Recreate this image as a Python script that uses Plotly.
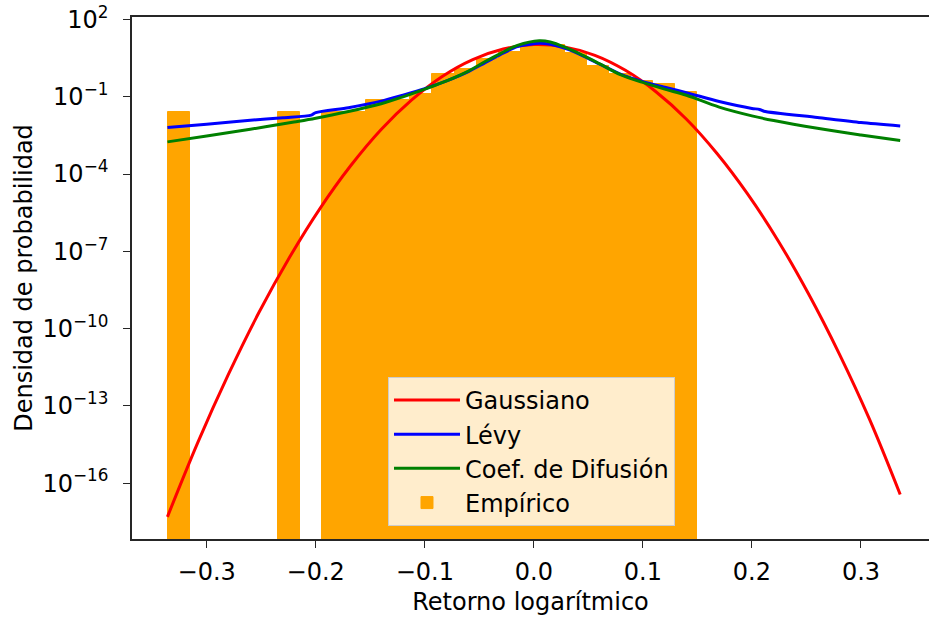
import plotly.graph_objects as go

# Histogram of log returns (density), bin centres and heights
bin_centers = [-0.32559, -0.22444, -0.18398, -0.16375, -0.14352, -0.12329, -0.10306,
               -0.08283, -0.06260, -0.04237, -0.02214, -0.00191, 0.01832, 0.03855,
               0.05878, 0.07901, 0.09924, 0.11947, 0.13970]
empirical_density = [0.026, 0.026, 0.026, 0.026, 0.078, 0.078, 0.13,
                     0.80, 1.25, 2.9, 5.6, 10.5, 10.0, 5.1,
                     1.6, 0.75, 0.41, 0.31, 0.16]
bin_width = 0.02023

# Gaussian fit
gauss_x = [-0.336, -0.308, -0.280, -0.252, -0.224, -0.196, -0.168, -0.140,
           -0.112, -0.084, -0.056, -0.028, 0.000, 0.028, 0.056, 0.084,
           0.112, 0.140, 0.168, 0.196, 0.224, 0.252, 0.280, 0.308, 0.336]
gauss_y = [4.9e-18, 3.9e-15, 1.7e-12, 4.3e-10, 5.9e-8, 4.7e-6, 2.1e-4, 5.4e-3,
           7.6e-2, 0.62, 2.8, 7.2, 10.7, 8.7, 4.1, 1.07,
           0.158, 1.35e-2, 6.3e-4, 1.7e-5, 2.6e-7, 2.2e-9, 1.07e-11, 2.9e-14, 3.6e-17]

# Lévy stable fit
levy_x = [-0.336, -0.30, -0.26, -0.23, -0.204, -0.200, -0.17, -0.14, -0.12,
          -0.10, -0.08, -0.06, -0.045, -0.03, -0.015, 0.005, 0.015, 0.03,
          0.045, 0.06, 0.08, 0.10, 0.12, 0.14, 0.17, 0.20, 0.207, 0.211,
          0.26, 0.30, 0.336]
levy_y = [6.5e-3, 8.7e-3, 1.23e-2, 1.55e-2, 1.95e-2, 2.45e-2, 3.8e-2, 6.8e-2, 0.117,
          0.209, 0.417, 0.955, 2.09, 4.57, 8.9, 12.0, 11.0, 7.24,
          3.89, 1.91, 0.741, 0.389, 0.234, 0.145, 6.6e-2, 3.55e-2, 3.24e-2, 2.75e-2,
          1.58e-2, 1.0e-2, 7.4e-3]

# Diffusion-coefficient fit
diff_x = [-0.336, -0.30, -0.26, -0.22, -0.20, -0.17, -0.14, -0.12, -0.10,
          -0.08, -0.06, -0.045, -0.03, -0.015, 0.005, 0.015, 0.03, 0.045,
          0.06, 0.08, 0.10, 0.12, 0.14, 0.17, 0.20, 0.22, 0.26, 0.30, 0.336]
diff_y = [1.78e-3, 3.0e-3, 5.5e-3, 1.05e-2, 1.48e-2, 2.69e-2, 5.4e-2, 0.100, 0.20,
          0.417, 1.0, 2.29, 5.0, 10.0, 15.1, 13.5, 7.94, 4.07,
          1.95, 0.71, 0.363, 0.20, 0.115, 3.98e-2, 1.82e-2, 1.20e-2, 6.0e-3, 3.3e-3, 2.0e-3]

x_ticks = [-0.3, -0.2, -0.1, 0.0, 0.1, 0.2, 0.3]
x_tick_labels = ["\u22120.3", "\u22120.2", "\u22120.1", "0.0", "0.1", "0.2", "0.3"]
y_ticks = [1e2, 1e-1, 1e-4, 1e-7, 1e-10, 1e-13, 1e-16]
y_tick_labels = ["10<sup>2</sup>", "10<sup>\u22121</sup>", "10<sup>\u22124</sup>",
                 "10<sup>\u22127</sup>", "10<sup>\u221210</sup>",
                 "10<sup>\u221213</sup>", "10<sup>\u221216</sup>"]

FONT = "DejaVu Sans"
FS = 24
AXIS_COLOR = "#262626"

fig = go.Figure()
fig.add_trace(go.Scatter(x=gauss_x, y=gauss_y, mode="lines", name="Gaussiano",
                         legendgroup="g",
                         line=dict(color="red", width=3, shape="spline", smoothing=1)))
fig.add_trace(go.Scatter(x=levy_x, y=levy_y, mode="lines", name="Lévy",
                         legendgroup="l",
                         line=dict(color="blue", width=3, shape="spline", smoothing=0.7)))
fig.add_trace(go.Scatter(x=diff_x, y=diff_y, mode="lines", name="Coef. de Difusión",
                         legendgroup="d",
                         line=dict(color="green", width=3, shape="spline", smoothing=1)))
fig.add_trace(go.Bar(x=bin_centers, y=empirical_density, width=bin_width,
                     name="Empírico", legendgroup="e",
                     marker=dict(color="orange", line=dict(width=1, color="orange"))))

fig.update_layout(
    width=929, height=617,
    margin=dict(l=132, r=0, t=17, b=78, autoexpand=False),
    paper_bgcolor="white", plot_bgcolor="white",
    font=dict(family=FONT, size=FS, color="black"),
    bargap=0,
    showlegend=True,
    legend=dict(x=0.3212, y=0.3106, xanchor="left", yanchor="top",
                bgcolor="#FFEDCC", bordercolor="#CCCCCC", borderwidth=1,
                font=dict(family=FONT, size=FS, color="black"),
                traceorder="normal", tracegroupgap=3, itemwidth=66),
    xaxis=dict(range=[-0.3685, 0.3624], tickvals=x_ticks, ticktext=x_tick_labels,
               showgrid=False, zeroline=False, showline=True, mirror=True,
               linecolor=AXIS_COLOR, linewidth=1.6,
               ticks="outside", ticklen=7, tickwidth=1.4, tickcolor=AXIS_COLOR,
               ticklabelstandoff=3,
               tickfont=dict(family=FONT, size=FS, color="black"),
               title=dict(text="Retorno logarítmico", standoff=9,
                          font=dict(family=FONT, size=FS, color="black"))),
    yaxis=dict(type="log", range=[-18.17, 2.1], tickvals=y_ticks, ticktext=y_tick_labels,
               showgrid=False, zeroline=False, showline=True, mirror=False,
               linecolor=AXIS_COLOR, linewidth=1.6,
               ticks="outside", ticklen=7, tickwidth=1.4, tickcolor=AXIS_COLOR,
               ticklabelstandoff=10,
               tickfont=dict(family=FONT, size=FS, color="black"),
               title=dict(text="Densidad de probabilidad", standoff=3,
                          font=dict(family=FONT, size=FS, color="black"))),
)

fig.write_html("out.html")
